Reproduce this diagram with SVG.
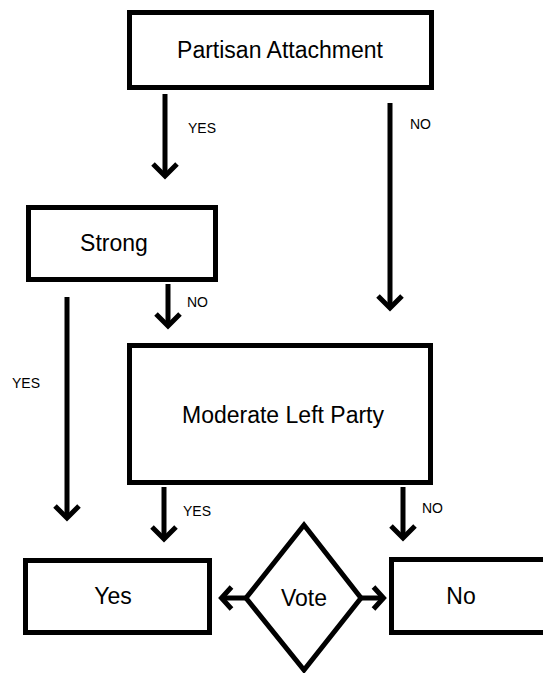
<svg xmlns="http://www.w3.org/2000/svg" width="543" height="673" viewBox="0 0 543 673">
<defs>
<style>
.box{fill:#fff;stroke:#000;stroke-width:5}
.t{font-family:"Liberation Sans",Arial,sans-serif;font-size:23px;fill:#000;text-anchor:middle}
.lbl{font-family:"Liberation Sans",Arial,sans-serif;font-size:14px;fill:#000}
.con{fill:none;stroke:#000;stroke-width:5}
</style>
<marker id="ah" markerUnits="userSpaceOnUse" markerWidth="40" markerHeight="40" orient="auto" refX="0" refY="0" viewBox="-20 -20 40 40" overflow="visible">
<path d="M-12,-12 L0,0 L-12,12" fill="none" stroke="#000" stroke-width="5"/>
</marker>
<marker id="ahs" markerUnits="userSpaceOnUse" markerWidth="40" markerHeight="40" orient="auto" refX="0" refY="0" viewBox="-20 -20 40 40" overflow="visible">
<path d="M-10,-11 L0,0 L-10,11" fill="none" stroke="#000" stroke-width="5"/>
</marker>
</defs>
<rect width="543" height="673" fill="#fff"/>
<g id="partisan">
<rect class="box" x="129.5" y="12.5" width="302" height="75"/>
<text class="t" x="280" y="58">Partisan Attachment</text>
</g>
<g id="strong">
<rect class="box" x="28.5" y="207.5" width="187" height="72"/>
<text class="t" x="114" y="251">Strong</text>
</g>
<g id="moderate">
<rect class="box" x="129.5" y="345.5" width="301" height="137"/>
<text class="t" x="283" y="423">Moderate Left Party</text>
</g>
<g id="yes">
<rect class="box" x="25.5" y="560.5" width="184" height="72"/>
<text class="t" x="113" y="604">Yes</text>
</g>
<g id="vote">
<polygon class="box" points="304,525 361,598 304,670 246,598"/>
<text class="t" x="304" y="606">Vote</text>
</g>
<g id="no">
<rect class="box" x="391.5" y="559.5" width="160" height="73"/>
<text class="t" x="461" y="604">No</text>
</g>
<g id="connectors">
<line class="con" x1="165" y1="94" x2="165" y2="176" marker-end="url(#ah)"/>
<text class="lbl" x="188" y="133">YES</text>
<line class="con" x1="390" y1="103" x2="390" y2="308" marker-end="url(#ah)"/>
<text class="lbl" x="410" y="129">NO</text>
<line class="con" x1="168" y1="284" x2="168" y2="326" marker-end="url(#ah)"/>
<text class="lbl" x="187" y="307">NO</text>
<line class="con" x1="67" y1="297" x2="67" y2="518" marker-end="url(#ah)"/>
<text class="lbl" x="12" y="388">YES</text>
<line class="con" x1="164" y1="487" x2="164" y2="539" marker-end="url(#ah)"/>
<text class="lbl" x="183" y="516">YES</text>
<line class="con" x1="403" y1="487" x2="403" y2="538" marker-end="url(#ah)"/>
<text class="lbl" x="422" y="513">NO</text>
<line class="con" x1="246" y1="598" x2="221.5" y2="598" marker-end="url(#ahs)"/>
<line class="con" x1="361" y1="598" x2="383.5" y2="598" marker-end="url(#ahs)"/>
</g>
</svg>
